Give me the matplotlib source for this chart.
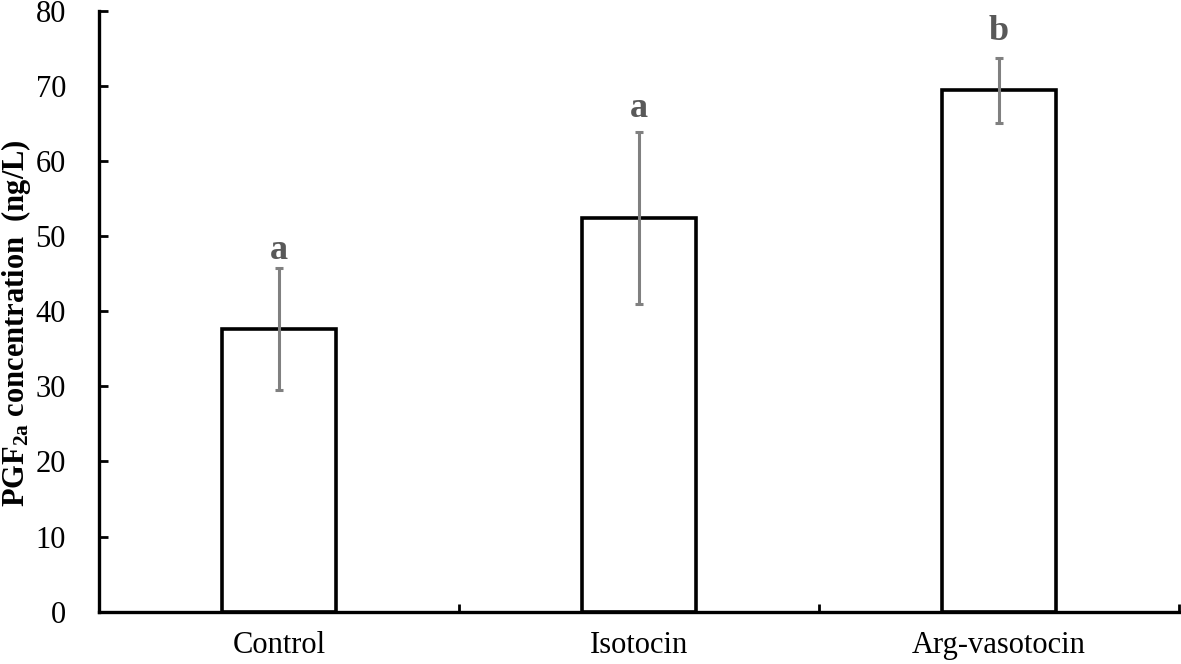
import matplotlib
import matplotlib.pyplot as plt

matplotlib.use('Agg')

# data
groups = ["Control", "Isotocin", "Arg-vasotocin"]
means = [37.6, 52.4, 69.4]
errors = [8.1, 11.4, 4.3]
letters = ["a", "a", "b"]
letter_y = [47.0, 65.8, 76.1]

plt.rcParams['font.family'] = ['Liberation Serif', 'DejaVu Serif']
plt.rcParams['mathtext.fontset'] = 'custom'
plt.rcParams['mathtext.rm'] = 'Liberation Serif'
plt.rcParams['mathtext.bf'] = 'Liberation Serif:bold'

fig = plt.figure(figsize=(11.81, 6.64), dpi=100)
ax = fig.add_axes([0.0841, 0.0788, 0.9142, 0.9051])

x = list(range(len(groups)))
ax.bar(x, means, width=0.317, color="white", edgecolor="black", linewidth=2.6, zorder=2)
ax.errorbar(x, means, yerr=errors, fmt="none", ecolor="#808080", elinewidth=2.2,
            capsize=2.6, capthick=2.2, zorder=3)

for xi, lab, ly in zip(x, letters, letter_y):
    ax.text(xi, ly, lab, ha="center", va="baseline", fontsize=26,
            fontweight="bold", color="#595959")

ax.set_xlim(-0.5, 2.5)
ax.set_ylim(0, 80)
ax.set_yticks(range(0, 81, 10))
ax.tick_params(axis="y", direction="in", length=6.5, width=2, labelsize=22, pad=24)
ax.set_xticks(x)
ax.set_xticklabels(groups)
ax.tick_params(axis="x", which="major", length=0, labelsize=22, pad=14)
ax.set_xticks([-0.5, 0.5, 1.5, 2.5], minor=True)
ax.tick_params(axis="x", which="minor", direction="in", length=6, width=2)

for side in ["top", "right"]:
    ax.spines[side].set_visible(False)
for side in ["left", "bottom"]:
    ax.spines[side].set_linewidth(2.4)

ax.set_ylabel(r"$\mathbf{PGF_{2a}}$ concentration  (ng/L)", fontsize=22, fontweight="bold")
ax.yaxis.set_label_coords(-0.061, 0.48)

fig.savefig("out.png", dpi=100)
plt.close(fig)
